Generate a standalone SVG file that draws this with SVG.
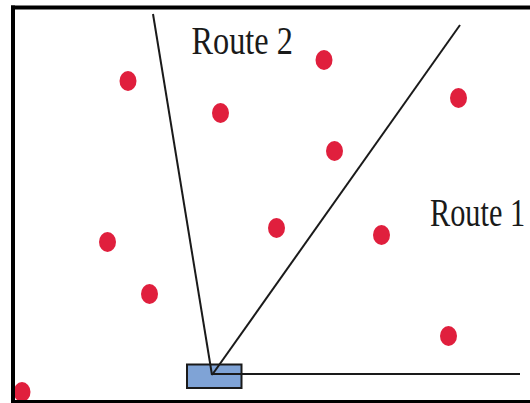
<svg xmlns="http://www.w3.org/2000/svg" width="530" height="403" viewBox="0 0 530 403">
  <style>
    .dot { fill: #e01f3d; }
    .route { stroke: #1a1a1a; stroke-width: 2; fill: none; }
    .label { font-family: "Liberation Serif", "Times New Roman", serif; fill: #1a1a1a; }
  </style>
  <rect x="0" y="0" width="530" height="403" fill="#ffffff"/>

  <!-- base station box -->
  <g id="base">
    <rect x="187" y="364.5" width="54.5" height="23.5" fill="#7fa3d6" stroke="#1a1a1a" stroke-width="2"/>
  </g>

  <!-- connectors: two angled routes and the horizontal baseline -->
  <g id="connectors">
    <line class="route" x1="153" y1="14" x2="212" y2="375"/>
    <line class="route" x1="460" y1="25" x2="212" y2="375"/>
    <line class="route" x1="212" y1="374" x2="520" y2="374"/>
  </g>

  <!-- nodes -->
  <g id="n1"><ellipse class="dot" cx="128" cy="81" rx="8.5" ry="10"/></g>
  <g id="n2"><ellipse class="dot" cx="220.5" cy="113" rx="8.5" ry="10"/></g>
  <g id="n3"><ellipse class="dot" cx="324" cy="60" rx="8.5" ry="10"/></g>
  <g id="n4"><ellipse class="dot" cx="458.5" cy="98" rx="8.5" ry="10"/></g>
  <g id="n5"><ellipse class="dot" cx="334.5" cy="151" rx="8.5" ry="10"/></g>
  <g id="n6"><ellipse class="dot" cx="107.5" cy="242" rx="8.5" ry="10"/></g>
  <g id="n7"><ellipse class="dot" cx="276.5" cy="228" rx="8.5" ry="10"/></g>
  <g id="n8"><ellipse class="dot" cx="381.5" cy="235" rx="8.5" ry="10"/></g>
  <g id="n9"><ellipse class="dot" cx="149.5" cy="294" rx="8.5" ry="10"/></g>
  <g id="n10"><ellipse class="dot" cx="448.5" cy="336" rx="8.5" ry="10"/></g>
  <g id="n11"><ellipse class="dot" cx="22" cy="392" rx="8.5" ry="10"/></g>

  <!-- route labels, set in a tall, narrow serif -->
  <g id="label-route2" transform="translate(191.5,53.5) scale(1,1.25)">
    <text class="label" x="0" y="0" font-size="32.3">Route 2</text>
  </g>
  <g id="label-route1" transform="translate(430,226) scale(1,1.29)">
    <text class="label" x="0" y="0" font-size="30.3">Route 1</text>
  </g>

  <!-- frame -->
  <g id="frame" stroke="#000000" stroke-width="4" fill="none">
    <line x1="13" y1="5.5" x2="13" y2="403"/>
    <line x1="11" y1="7.5" x2="530" y2="7.5"/>
    <line x1="11" y1="402" x2="530" y2="402"/>
  </g>
</svg>
